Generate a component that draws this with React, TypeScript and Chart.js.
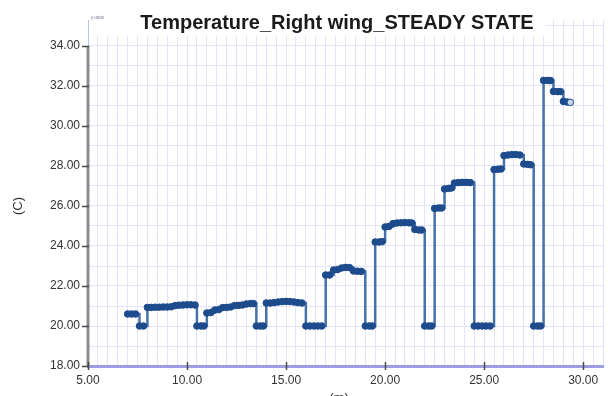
import { useEffect, useRef } from 'react';
import { Chart, registerables } from 'chart.js';

Chart.register(...registerables);

const TITLE = 'Temperature_Right wing_STEADY STATE';
const X_TITLE = '(m)';
const Y_TITLE = '(C)';
const CORNER_LABEL = 'y-axis';

const xValues = [
  7.0, 7.2, 7.4, 7.6, 7.8,
  8.0, 8.2, 8.4, 8.6, 8.8, 9.0, 9.2, 9.4, 9.6, 9.8, 10.0, 10.2, 10.4,
  10.5, 10.7, 10.85,
  11.0, 11.2, 11.4, 11.6, 11.8, 12.0, 12.2, 12.4, 12.6, 12.8, 13.0, 13.2, 13.35,
  13.5, 13.7, 13.85,
  14.0, 14.2, 14.4, 14.6, 14.8, 15.0, 15.2, 15.4, 15.6, 15.8,
  16.0, 16.2, 16.4, 16.6, 16.8,
  17.0, 17.2, 17.4, 17.6, 17.8, 18.0, 18.2, 18.4, 18.6, 18.8,
  19.0, 19.2, 19.35,
  19.5, 19.7, 19.85, 20.0, 20.2, 20.4, 20.6, 20.8, 21.0, 21.2, 21.35, 21.5, 21.7, 21.85,
  22.0, 22.2, 22.35,
  22.5, 22.7, 22.85, 23.0, 23.2, 23.35, 23.5, 23.7, 23.9, 24.1, 24.3,
  24.5, 24.7, 24.9, 25.1, 25.3,
  25.5, 25.7, 25.85, 26.0, 26.2, 26.4, 26.6, 26.8, 27.0, 27.2, 27.35,
  27.5, 27.7, 27.85,
  28.0, 28.2, 28.35, 28.5, 28.7, 28.85, 29.0, 29.2, 29.35,
];

const temperatures = [
  20.6, 20.6, 20.6, 20.0, 20.0,
  20.93, 20.93, 20.94, 20.94, 20.95, 20.95, 20.96, 21.02, 21.04, 21.05, 21.06, 21.06, 21.05,
  20.0, 20.0, 20.0,
  20.65, 20.67, 20.8, 20.82, 20.92, 20.93, 20.95, 21.02, 21.03, 21.05, 21.1, 21.12, 21.12,
  20.0, 20.0, 20.0,
  21.15, 21.15, 21.17, 21.2, 21.22, 21.23, 21.22, 21.2, 21.17, 21.15,
  20.0, 20.0, 20.0, 20.0, 20.0,
  22.55, 22.55, 22.8, 22.82, 22.9, 22.93, 22.92, 22.75, 22.74, 22.73,
  20.0, 20.0, 20.0,
  24.2, 24.2, 24.22, 24.95, 24.98, 25.12, 25.15, 25.16, 25.17, 25.16, 25.15, 24.83, 24.8, 24.8,
  20.0, 20.0, 20.0,
  25.88, 25.9, 25.9, 26.85, 26.88, 26.9, 27.15, 27.17, 27.18, 27.18, 27.17,
  20.0, 20.0, 20.0, 20.0, 20.0,
  27.82, 27.84, 27.85, 28.52, 28.55, 28.57, 28.57, 28.55, 28.1, 28.08, 28.06,
  20.0, 20.0, 20.0,
  32.28, 32.28, 32.27, 31.73, 31.72, 31.72, 31.23, 31.2, 31.18,
];

const xTickLabels = [5, 10, 15, 20, 25, 30];
const yTickLabels = [18, 20, 22, 24, 26, 28, 30, 32, 34];

const X_MIN = 5;
const X_MAX = 31;
const Y_MIN = 18;
const Y_MAX = 35.3;
const X_GRID_STEP = 0.5;
const Y_GRID_STEP = 1;

const FONT = '"Liberation Sans", Arial, Helvetica, sans-serif';

function buildTicks(min: number, max: number, step: number) {
  const out: { value: number }[] = [];
  for (let v = min; v <= max + 1e-9; v += step) out.push({ value: Math.round(v * 100) / 100 });
  return out;
}

function isIn(list: number[], v: number) {
  return list.some((t) => Math.abs(t - v) < 1e-6);
}

const decorPlugin = {
  id: 'decor',
  afterDraw(chart: any) {
    const ctx = chart.ctx as CanvasRenderingContext2D;
    const xs = chart.scales.x;
    const ys = chart.scales.y;
    const area = chart.chartArea;
    const topLabel = yTickLabels[yTickLabels.length - 1];
    const yTopPx = ys.getPixelForValue(topLabel);
    ctx.save();
    // white box behind title
    ctx.fillStyle = '#ffffff';
    ctx.fillRect(area.left + 1.5, 0, 544 - area.left, 36);
    // y axis line: light above the top label, gray below
    ctx.strokeStyle = '#b8c4f0';
    ctx.lineWidth = 1;
    ctx.beginPath();
    ctx.moveTo(area.left + 0.5, area.top);
    ctx.lineTo(area.left + 0.5, yTopPx);
    ctx.stroke();
    ctx.strokeStyle = '#8c8c8c';
    ctx.lineWidth = 3;
    ctx.beginPath();
    ctx.moveTo(area.left, yTopPx);
    ctx.lineTo(area.left, area.bottom);
    ctx.stroke();
    // tick marks
    ctx.strokeStyle = '#4a4a4a';
    ctx.lineWidth = 1.5;
    for (const v of yTickLabels) {
      const py = Math.round(ys.getPixelForValue(v)) + 0.5;
      ctx.beginPath();
      ctx.moveTo(area.left - 6, py);
      ctx.lineTo(area.left + 1, py);
      ctx.stroke();
    }
    for (const v of xTickLabels) {
      const px = Math.round(xs.getPixelForValue(v)) + 0.5;
      ctx.beginPath();
      ctx.moveTo(px, area.bottom - 4);
      ctx.lineTo(px, area.bottom + 4);
      ctx.stroke();
    }
    // title
    ctx.fillStyle = '#1a1a1a';
    ctx.font = `bold 20px ${FONT}`;
    ctx.textAlign = 'center';
    ctx.textBaseline = 'alphabetic';
    ctx.fillText(TITLE, 337, 29);
    // corner label
    ctx.fillStyle = '#7a7a9a';
    ctx.font = `5px ${FONT}`;
    ctx.textAlign = 'left';
    ctx.textBaseline = 'middle';
    ctx.fillText(CORNER_LABEL, 91, 18);
    // axis titles
    ctx.fillStyle = '#333';
    ctx.font = `13px ${FONT}`;
    ctx.textAlign = 'center';
    ctx.textBaseline = 'top';
    ctx.fillText(X_TITLE, 339, 392);
    ctx.translate(18, 206);
    ctx.rotate(-Math.PI / 2);
    ctx.textBaseline = 'middle';
    ctx.fillText(Y_TITLE, 0, 0);
    ctx.restore();
  },
};

export default function App() {
  const ref = useRef<HTMLCanvasElement | null>(null);
  useEffect(() => {
    document.body.style.margin = '0';
    if (!ref.current) return;
    const data = xValues.map((x, i) => ({ x, y: temperatures[i] }));
    const last = data.length - 1;
    const chart = new Chart(ref.current, {
      type: 'line',
      data: {
        datasets: [
          {
            data,
            stepped: true,
            borderColor: '#4672aa',
            borderWidth: 2.5,
            pointRadius: 3.3,
            pointBorderWidth: 1,
            pointBorderColor: '#1d4b8c',
            pointBackgroundColor: (c: any) => (c.dataIndex === last ? '#c9d5e8' : '#1d4b8c'),
            fill: false,
          },
        ],
      },
      options: {
        animation: false,
        responsive: false,
        devicePixelRatio: 1,
        layout: { padding: { left: 0, right: 0, top: 20, bottom: 0 } },
        plugins: {
          legend: { display: false },
          tooltip: { enabled: false },
          title: { display: false },
        },
        scales: {
          x: {
            type: 'linear',
            min: X_MIN,
            max: X_MAX,
            afterBuildTicks: (s: any) => {
              s.ticks = buildTicks(X_MIN, X_MAX, X_GRID_STEP);
            },
            afterFit: (s: any) => {
              s.height = 30;
            },
            ticks: {
              autoSkip: false,
              maxRotation: 0,
              padding: 2,
              color: '#333',
              font: { size: 12, family: FONT },
              callback: (v: any) => (isIn(xTickLabels, Number(v)) ? Number(v).toFixed(2) : ''),
            },
            grid: { color: '#e3e3fa', lineWidth: 1, tickLength: 5, tickColor: 'rgba(0,0,0,0)' },
            border: { color: '#9d9de4', width: 3 },
          },
          y: {
            type: 'linear',
            min: Y_MIN,
            max: Y_MAX,
            afterBuildTicks: (s: any) => {
              s.ticks = buildTicks(Y_MIN, Y_MAX, Y_GRID_STEP);
            },
            afterFit: (s: any) => {
              s.width = 88;
            },
            ticks: {
              autoSkip: false,
              padding: 2,
              color: '#333',
              font: { size: 12, family: FONT },
              callback: (v: any) => (isIn(yTickLabels, Number(v)) ? Number(v).toFixed(2) : ''),
            },
            grid: { color: '#e3e3fa', lineWidth: 1, tickLength: 6, tickColor: 'rgba(0,0,0,0)' },
            border: { display: false },
          },
        },
      },
      plugins: [decorPlugin],
    });
    return () => chart.destroy();
  }, []);
  return (
    <div style={{ width: 608, height: 396 }}>
      <canvas ref={ref} width={608} height={396} />
    </div>
  );
}
